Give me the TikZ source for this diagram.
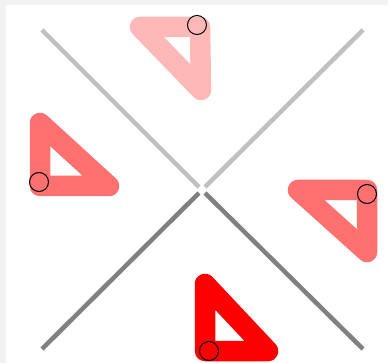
\documentclass[tikz,border=0pt]{standalone}
\usetikzlibrary{calc}
\definecolor{stripgray}{RGB}{242,242,242}
\definecolor{armlightc}{RGB}{192,192,192}
\definecolor{armdarkc}{RGB}{128,128,128}
\definecolor{pinkc}{RGB}{255,184,184}
\definecolor{salmonc}{RGB}{255,112,112}
\definecolor{redc}{RGB}{255,0,0}
\begin{document}
\begin{tikzpicture}[x=1pt,y=-1pt,
  armlight/.style={draw=armlightc,line width=4.5pt},
  armdark/.style={draw=armdarkc,line width=4.5pt},
  tri/.style={line width=20.5pt,line join=round,line cap=round},
  marker/.style={draw=black,line width=1pt,fill=none,circle,minimum size=19pt,inner sep=0pt}]
\useasboundingbox (0,0) rectangle (388,363);
\fill[white] (0,0) rectangle (388,363);
\fill[stripgray] (0,0) rectangle (6,363);
\fill[stripgray] (0,0) rectangle (388,5);
% X arms
\coordinate (c) at (202,190);
\coordinate (tl) at (42,30);
\coordinate (tr) at (363,30);
\coordinate (bl) at (42,349);
\coordinate (br) at (363,349);
\draw[armlight] (tl) -- ($(c)+(-3,-3)$);
\draw[armlight] (tr) -- ($(c)+(3,-3)$);
\draw[armdark] (bl) -- ($(c)+(-3,3)$);
\draw[armdark] (br) -- ($(c)+(3,3)$);
% triangles
\draw[tri,draw=pinkc] (140,27) -- (200,27) -- (201,90) -- cycle;
\draw[tri,draw=salmonc] (40,123) -- (40,186) -- (109,186) -- cycle;
\draw[tri,draw=salmonc] (298,190) -- (367,190) -- (367,252) -- cycle;
\draw[tri,draw=redc] (205,284) -- (205,351) -- (268,351) -- cycle;
% markers
\node[marker] (m1) at (197,25) {};
\node[marker] (m2) at (39,182) {};
\node[marker] (m3) at (367,194) {};
\node[marker] (m4) at (209,351) {};
\end{tikzpicture}
\end{document}
